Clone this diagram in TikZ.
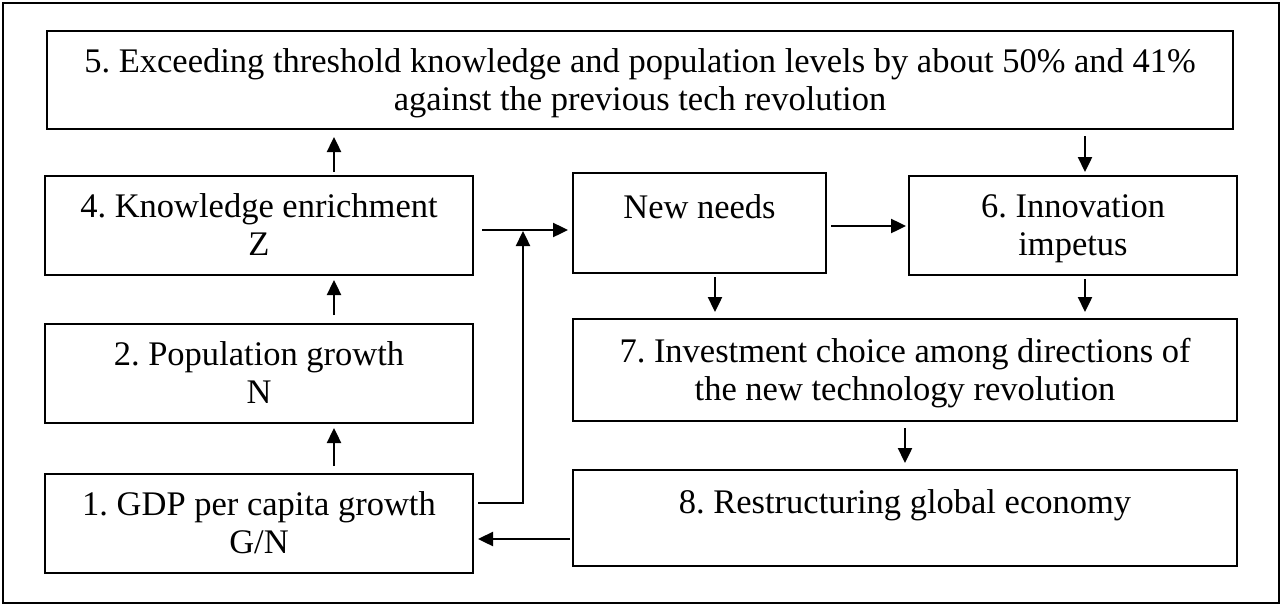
\documentclass[tikz,border=0pt]{standalone}
\usepackage{fontspec}
\setmainfont{Liberation Serif}
\usetikzlibrary{arrows.meta, positioning}

\tikzset{
    box/.style={draw, line width=1pt, align=center, inner sep=0pt,
        text height=30pt, text depth=0pt,
        font=\fontsize{17.25pt}{19pt}\selectfont\frenchspacing},
    oneline/.style={text height=0pt, text depth=4.5pt},
    leftbox/.style={box, minimum width=214pt, minimum height=49.5pt},
    arr/.style={-{Triangle[length=7.5pt,width=7pt]}, line width=1.2pt},
}

\begin{document}
\begin{tikzpicture}[x=0.5pt, y=-0.5pt]
            \useasboundingbox (0,0) rectangle (1284,605);
            \draw[line width=1pt] (3,3) rectangle (1279,603);

            \node[box, minimum width=593pt, minimum height=49pt] (threshold) at (640,80)
                {5. Exceeding threshold knowledge and population levels by about 50\% and 41\%\\
                 against the previous tech revolution};
            \node[leftbox] (knowledge) at (259,225.5) {4. Knowledge enrichment\\Z};
            \node[leftbox, below=23.5pt of knowledge] (population) {2. Population growth\\N};
            \node[leftbox, below=24.5pt of population] (gdp) {1. GDP per capita growth\\G/N};
            \node[box, oneline, minimum width=126.5pt, minimum height=50pt] (needs) at (699.5,223) {New needs};
            \node[box, minimum width=164pt, minimum height=49.5pt] (innovation) at (1073,225.5) {6. Innovation\\impetus};
            \node[box, minimum width=332pt, minimum height=51pt] (investment) at (905,370)
                {7. Investment choice among directions of\\the new technology revolution};
            \node[box, oneline, minimum width=332pt, minimum height=48pt] (restructuring) at (905,518)
                {8. Restructuring global economy};

            \coordinate (colL) at (334,0);
            \coordinate (colN) at (715,0);
            \coordinate (colM) at (905,0);
            \coordinate (colR) at (1085,0);
            \coordinate (riser) at (523,0);
            \coordinate (rowA) at (0,230);
            \coordinate (rowB) at (0,226);
            \coordinate (rowG) at (0,503);
            \coordinate (rowR) at (0,539);

            \draw[arr, shorten <=1.5pt, shorten >=3.5pt] (knowledge.north -| colL) -- (threshold.south -| colL);
            \draw[arr, shorten <=3pt, shorten >=1.5pt] (threshold.south -| colR) -- (innovation.north -| colR);
            \draw[arr, shorten <=4pt, shorten >=2pt] (population.north -| colL) -- (knowledge.south -| colL);
            \draw[arr, shorten <=3.5pt, shorten >=2pt] (gdp.north -| colL) -- (population.south -| colL);
            \draw[arr, shorten <=4pt, shorten >=2pt] (knowledge.east |- rowA) -- (needs.west |- rowA);
            \draw[arr, shorten <=2pt, shorten >=0.5pt] (gdp.east |- rowG) -| (riser |- rowA);
            \draw[arr, shorten <=2pt, shorten >=1pt] (needs.east |- rowB) -- (innovation.west |- rowB);
            \draw[arr, shorten <=1.5pt, shorten >=3pt] (needs.south -| colN) -- (investment.north -| colN);
            \draw[arr, shorten <=1.5pt, shorten >=3pt] (innovation.south -| colR) -- (investment.north -| colR);
            \draw[arr, shorten <=3pt, shorten >=3pt] (investment.south -| colM) -- (restructuring.north -| colM);
            \draw[arr, shorten <=1pt, shorten >=2pt] (restructuring.west |- rowR) -- (gdp.east |- rowR);
        \end{tikzpicture}
\end{document}
